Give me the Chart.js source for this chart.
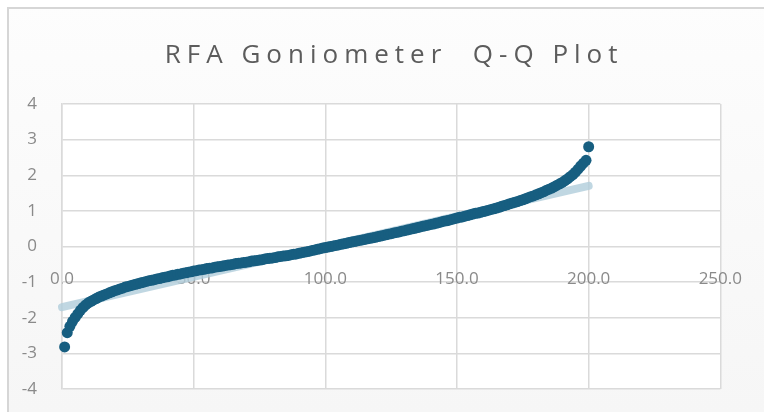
<!DOCTYPE html>
<html>
<head>
<meta charset="utf-8">
<script src="https://cdn.jsdelivr.net/npm/chart.js@4"></script>
<style>
  html, body { margin: 0; padding: 0; background: #ffffff; }
  #wrap { width: 764px; height: 412px; position: relative; }
</style>
</head>
<body>
<div id="wrap"><canvas id="myChart" width="764" height="412"></canvas></div>
<script>
// Q-Q plot data (rank on x, ordered quantile on y)
var ranks = [];
for (var r = 1; r <= 200; r++) ranks.push(r);

var quantiles = [
  -2.82, -2.42, -2.24, -2.10, -1.99, -1.89, -1.79, -1.71, -1.64, -1.58,
  -1.54, -1.50, -1.46, -1.42, -1.39, -1.36, -1.33, -1.30, -1.27, -1.24,
  -1.22, -1.19, -1.17, -1.14, -1.12, -1.10, -1.08, -1.06, -1.04, -1.02,
  -1.00, -0.98, -0.96, -0.95, -0.93, -0.91, -0.90, -0.88, -0.86, -0.85,
  -0.83, -0.81, -0.80, -0.78, -0.77, -0.75, -0.74, -0.72, -0.71, -0.69,
  -0.68, -0.66, -0.65, -0.64, -0.62, -0.61, -0.60, -0.58, -0.57, -0.56,
  -0.55, -0.53, -0.52, -0.51, -0.50, -0.48, -0.47, -0.46, -0.45, -0.44,
  -0.43, -0.41, -0.40, -0.39, -0.38, -0.37, -0.35, -0.34, -0.33, -0.32,
  -0.31, -0.29, -0.28, -0.27, -0.26, -0.25, -0.23, -0.22, -0.21, -0.19,
  -0.175, -0.16, -0.145, -0.13, -0.11, -0.095, -0.08, -0.06, -0.045, -0.03,
  -0.015, 0.00, 0.015, 0.03, 0.045, 0.06, 0.075, 0.09, 0.11, 0.125,
  0.14, 0.155, 0.17, 0.185, 0.20, 0.215, 0.23, 0.245, 0.26, 0.28,
  0.295, 0.31, 0.33, 0.345, 0.36, 0.38, 0.395, 0.41, 0.43, 0.445,
  0.46, 0.48, 0.495, 0.51, 0.53, 0.55, 0.565, 0.585, 0.60, 0.62,
  0.63, 0.65, 0.67, 0.69, 0.71, 0.72, 0.74, 0.76, 0.78, 0.80,
  0.82, 0.83, 0.85, 0.87, 0.89, 0.91, 0.93, 0.94, 0.96, 0.98,
  1.00, 1.02, 1.04, 1.06, 1.08, 1.10, 1.13, 1.15, 1.17, 1.20,
  1.22, 1.24, 1.26, 1.29, 1.31, 1.34, 1.37, 1.40, 1.42, 1.45,
  1.48, 1.51, 1.54, 1.58, 1.61, 1.64, 1.68, 1.72, 1.76, 1.80,
  1.85, 1.90, 1.96, 2.02, 2.09, 2.17, 2.26, 2.34, 2.42, 2.80
];

// linear trend line end points
var trendX = [0, 200];
var trendY = [-1.70, 1.70];

var titleText = 'RFA Goniometer  Q-Q Plot';

var points = ranks.map(function (x, i) { return { x: x, y: quantiles[i] }; });
var trend = trendX.map(function (x, i) { return { x: x, y: trendY[i] }; });

// background card + title (Excel style, wide letter spacing)
var cardPlugin = {
    id: 'card',
    beforeDraw: function (chart) {
        var ctx = chart.ctx;
        ctx.save();
        var g = ctx.createLinearGradient(0, 0, 0, chart.height);
        g.addColorStop(0, '#fdfdfd');
        g.addColorStop(1, '#f6f6f6');
        ctx.fillStyle = g;
        ctx.fillRect(0, 0, chart.width, chart.height);
        ctx.fillStyle = '#ffffff';
        ctx.fillRect(0, 0, chart.width, 7);
        ctx.fillRect(0, 0, 7, chart.height);
        ctx.strokeStyle = '#d6d6d6';
        ctx.lineWidth = 2;
        ctx.beginPath();
        ctx.moveTo(8, chart.height);
        ctx.lineTo(8, 8);
        ctx.lineTo(chart.width, 8);
        ctx.stroke();
        var a = chart.chartArea;
        ctx.fillStyle = '#ffffff';
        ctx.fillRect(a.left, a.top, a.right - a.left, a.bottom - a.top);
        ctx.restore();
    },
    afterDraw: function (chart) {
        var ctx = chart.ctx;
        var a = chart.chartArea;
        ctx.save();
        ctx.font = '26px "Open Sans"';
        ctx.letterSpacing = '6px';
        ctx.fillStyle = '#5c5c5c';
        ctx.textAlign = 'center';
        ctx.textBaseline = 'alphabetic';
        ctx.fillText(titleText, (a.left + a.right) / 2 + 3, 63);
        ctx.restore();
    }
};

var ctx = document.getElementById('myChart').getContext('2d');
new Chart(ctx, {
    type: 'scatter',
    data: {
        datasets: [{
            label: 'Q-Q',
            data: points,
            backgroundColor: '#175e80',
            borderWidth: 0,
            pointRadius: 5.5,
            pointHoverRadius: 5.5,
            clip: false,
            order: 0
        }, {
            label: 'Trend',
            type: 'line',
            data: trend,
            borderColor: 'rgba(176, 205, 219, 0.8)',
            borderWidth: 8,
            borderCapStyle: 'round',
            pointRadius: 0,
            fill: false,
            clip: false,
            order: 1
        }]
    },
    options: {
        responsive: false,
        animation: false,
        devicePixelRatio: 1,
        layout: {
            padding: { top: 104, left: 12, right: 40, bottom: 23 }
        },
        plugins: {
            legend: { display: false },
            tooltip: { enabled: false },
            title: { display: false }
        },
        scales: {
            x: {
                type: 'linear',
                position: { y: 0 },
                min: 0,
                max: 250,
                ticks: {
                    stepSize: 50,
                    padding: 22,
                    color: '#8a8a8a',
                    font: { family: 'Open Sans', size: 17 },
                    maxRotation: 0,
                    callback: function (v) { return v.toFixed(1); }
                },
                grid: { color: '#dadada', lineWidth: 1.5, drawTicks: false },
                border: { display: false }
            },
            y: {
                min: -4,
                max: 4,
                afterFit: function (scale) {
                    scale.width = 50;
                    scale.paddingTop = 0;
                    scale.paddingBottom = 0;
                },
                ticks: {
                    stepSize: 1,
                    padding: 25,
                    color: '#8a8a8a',
                    font: { family: 'Open Sans', size: 17 }
                },
                grid: { color: '#dadada', lineWidth: 1.5, drawTicks: false },
                border: { color: '#dadada', width: 1.5 }
            }
        }
    },
    plugins: [cardPlugin]
});
</script>
</body>
</html>
